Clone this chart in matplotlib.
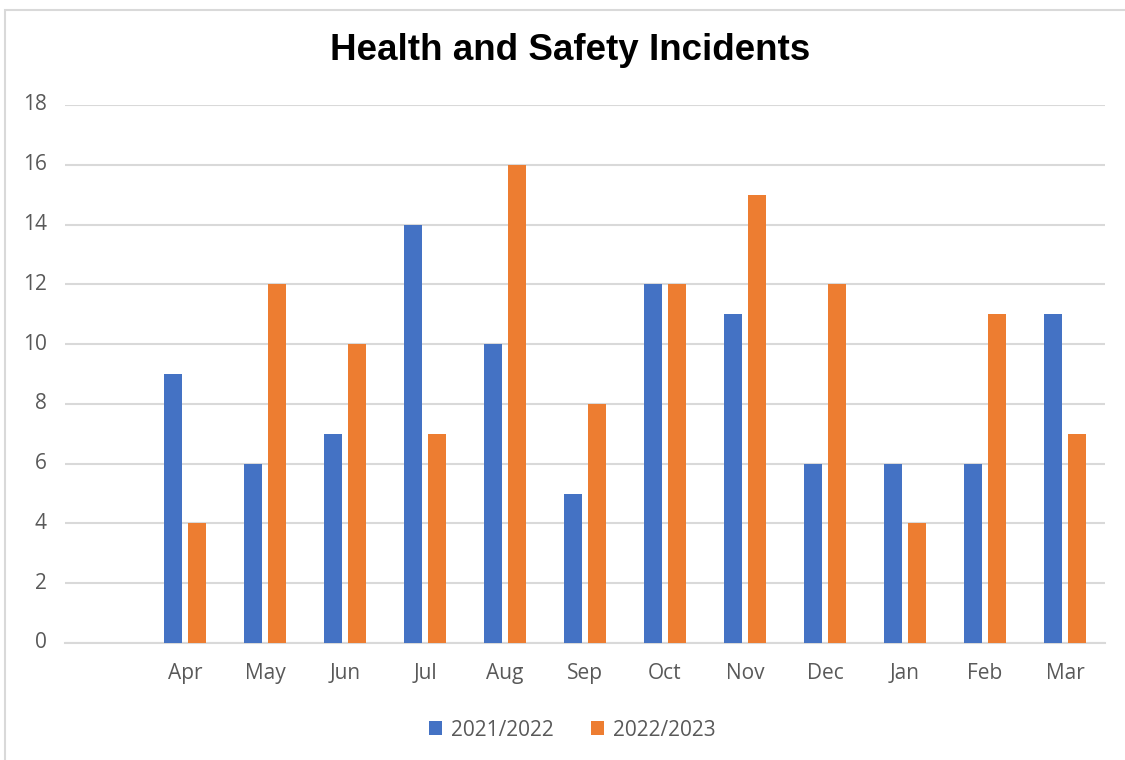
import matplotlib
matplotlib.use("Agg")
import matplotlib.pyplot as plt
from matplotlib.patches import Rectangle
import numpy as np

months = ["", "Apr", "May", "Jun", "Jul", "Aug", "Sep", "Oct", "Nov", "Dec", "Jan", "Feb", "Mar"]
series_a_label = "2021/2022"
series_b_label = "2022/2023"
series_a = [np.nan, 9, 6, 7, 14, 10, 5, 12, 11, 6, 6, 6, 11]
series_b = [np.nan, 4, 12, 10, 7, 16, 8, 12, 15, 12, 4, 11, 7]
yticks = [0, 2, 4, 6, 8, 10, 12, 14, 16, 18]

blue = "#4472C4"
orange = "#ED7D31"
text_grey = "#595959"
grid_grey = "#D9D9D9"

W, H = 1125, 760
fig = plt.figure(figsize=(W / 100, H / 100), dpi=100)
fig.patch.set_facecolor("white")

# chart frame
fig.patches.append(Rectangle((5 / W, -0.02), 1.2, 1 - 10 / H + 0.02, transform=fig.transFigure,
                             fill=False, edgecolor="#D9D9D9", linewidth=1.5))

ax = fig.add_axes([65 / W, 1 - 643 / H, (1105 - 65) / W, (643 - 105) / H])
x = np.arange(len(months))
bw = 0.225
off = 0.144
ax.bar(x - off, series_a, width=bw, color=blue, label=series_a_label, zorder=3)
ax.bar(x + off, series_b, width=bw, color=orange, label=series_b_label, zorder=3)

ax.set_xlim(-0.5, len(months) - 0.5)
ax.set_ylim(0, 18)
ax.set_yticks(yticks)
ax.set_xticks(x)
ax.set_xticklabels(months)
ax.yaxis.grid(True, color=grid_grey, linewidth=1.5, zorder=0)
ax.set_axisbelow(True)
for s in ["top", "right", "left"]:
    ax.spines[s].set_visible(False)
ax.spines["bottom"].set_color(grid_grey)
ax.spines["bottom"].set_linewidth(1.5)
ax.tick_params(axis="both", length=0, labelsize=15, labelcolor=text_grey)
ax.tick_params(axis="y", pad=13)
ax.tick_params(axis="x", pad=22)
for lab in ax.get_xticklabels() + ax.get_yticklabels():
    lab.set_fontfamily("Open Sans")
    lab.set_va("center")

fig.text(570 / W, 1 - 51 / H, "Health and Safety Incidents", ha="center", va="center",
         fontsize=26.5, fontweight="bold", fontfamily="Liberation Sans", color="black")

leg = fig.legend(loc="center", bbox_to_anchor=(572 / W, 1 - 730 / H), ncol=2, frameon=False,
                 prop={"family": "Open Sans", "size": 15}, handlelength=0.65, handleheight=0.65,
                 handletextpad=0.4, columnspacing=1.8)
for t in leg.get_texts():
    t.set_color(text_grey)

fig.savefig("out.png", dpi=100)
